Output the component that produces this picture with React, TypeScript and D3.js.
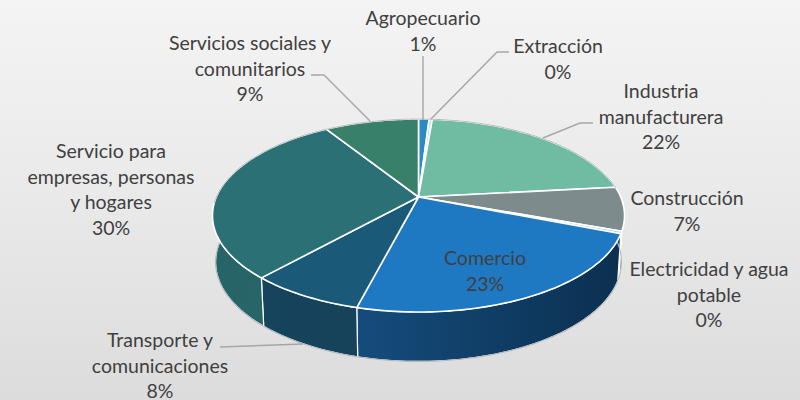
import React from "react";
import * as d3 from "d3";

const categories = ["Agropecuario", "Extracción", "Industria manufacturera", "Construcción", "Electricidad y agua potable", "Comercio", "Transporte y comunicaciones", "Servicio para empresas, personas y hogares", "Servicios sociales y comunitarios"];
const values = [1, 0.3, 22, 7.3, 0.4, 23, 7.6, 29.5, 8.9];
const topColors = ["#2a8ac4", "#b9e3ea", "#6fbca2", "#7d8b8c", "#a9d6e4", "#1f79c2", "#1a5a78", "#2b7075", "#38806a"];
const sideLeft = ["#1a5c8a", "#8fb8c0", "#4f8f78", "#5c6a6b", "#c4dfe8", "#1a5c96", "#17455e", "#266468", "#2c6a58"];
const sideRight = ["#1a5c8a", "#8fb8c0", "#4f8f78", "#5c6a6b", "#c4dfe8", "#0b2f4f", "#143c52", "#2a6a6c", "#2c6a58"];

const labelLines = [
  ["Agropecuario"], ["Extracción"], ["Industria", "manufacturera"], ["Construcción"],
  ["Electricidad y agua", "potable"], ["Comercio"], ["Transporte y", "comunicaciones"],
  ["Servicio para", "empresas, personas", "y hogares"], ["Servicios sociales y", "comunitarios"],
];
const labelAnchors = [[423, 25], [558, 53], [661, 98], [687, 205], [709, 276], [485, 265], [160, 347], [111, 158], [250, 50]];
const leaders: [number, number][][] = [
  [[423, 120], [423, 56]],
  [[431, 119], [497, 52], [509, 52]],
  [[543, 138], [580, 123], [593, 123]],
  [],
  [],
  [],
  [[303, 344], [220, 347]],
  [],
  [[370, 121], [324, 75], [311, 75]],
];

const W = 800, H = 400;
const CX = 418.5, CY = 197, A = 202.2, B = 92.95, K = 0.1917, DEPTH = 46;

const project = (theta: number, h: number): [number, number] => {
  const u = Math.sin(theta), v = -Math.cos(theta), s = 1 / (1 - K * v);
  return [
    CX + A * u * s * (1 - 0.015 * h),
    CY + B * v * s * (1 + 0.03 * h) + DEPTH * h,
  ];
};

const arcs = d3.pie<number>().sort(null).value((d) => d)(values);
const line = d3.line();
const sample = (a: number, b: number) => {
  const n = Math.max(2, Math.ceil((b - a) / 0.02));
  return d3.range(n + 1).map((i) => a + ((b - a) * i) / n);
};
const FRONT_A = Math.PI * 0.47, FRONT_B = Math.PI * 1.56;

export default function App() {
  const outline = [
    ...sample(FRONT_A, FRONT_B).map((t) => project(t, 1)),
  ];
  return (
    <svg width={W} height={H} viewBox={`0 0 ${W} ${H}`} style={{ position: "fixed", left: 0, top: 0, display: "block" }}
      fontFamily="Lato, 'Open Sans', sans-serif">
      <defs>
        <linearGradient id="bg" x1="0" y1="0" x2="0" y2="1">
          <stop offset="0" stopColor="#f4f4f4" />
          <stop offset="0.55" stopColor="#e8e8e8" />
          <stop offset="1" stopColor="#dcdcdc" />
        </linearGradient>
        {arcs.map((_, i) => (
          <linearGradient key={i} id={`side${i}`} gradientUnits="userSpaceOnUse" x1={212} x2={625} y1={0} y2={0}>
            <stop offset="0" stopColor={sideLeft[i]} />
            <stop offset="1" stopColor={sideRight[i]} />
          </linearGradient>
        ))}
        <linearGradient id="side5" gradientUnits="userSpaceOnUse" x1={360} x2={600} y1={0} y2={0}>
          <stop offset="0" stopColor={sideLeft[5]} />
          <stop offset="0.55" stopColor="#0f3a60" />
          <stop offset="1" stopColor={sideRight[5]} />
        </linearGradient>
      </defs>
      <rect width={W} height={H} fill="url(#bg)" />

      {arcs.map((a, i) => {
        const s = Math.max(a.startAngle, FRONT_A), e = Math.min(a.endAngle, FRONT_B);
        if (e <= s) return null;
        const ts = sample(s, e);
        const pts = [...ts.map((t) => project(t, 0)), ...ts.slice().reverse().map((t) => project(t, 1))];
        return <path key={i} d={line(pts) + "Z"} fill={`url(#side${i})`} stroke="#ffffff" strokeWidth={1.2} strokeLinejoin="round" />;
      })}
      <path d={line(outline) ?? ""} fill="none" stroke="#b5b8ba" strokeWidth={1.2} />

      {arcs.map((a, i) => {
        const pts: [number, number][] = [[CX, CY], ...sample(a.startAngle, a.endAngle).map((t) => project(t, 0))];
        return <path key={i} d={line(pts) + "Z"} fill={topColors[i]} stroke="#ffffff" strokeWidth={1.6} strokeLinejoin="round" />;
      })}
      <path d={line(sample(-Math.PI * 0.52, Math.PI * 0.47).map((t) => project(t, 0))) ?? ""} fill="none" stroke="#b5b8ba" strokeWidth={1} />

      {leaders.map((pts, i) => pts.length ? (
        <path key={i} d={line(pts) ?? ""} fill="none" stroke="#a6a6a6" strokeWidth={1.4} />
      ) : null)}

      {arcs.map((a, i) => {
        const lines = [...labelLines[i], `${Math.round(a.value)}%`];
        const [x, y] = labelAnchors[i];
        return (
          <text key={i} x={x} y={y} textAnchor="middle" fontSize={19.5} fill="#404040">
            {lines.map((l, j) => <tspan key={j} x={x} y={y + j * 25.6}>{l}</tspan>)}
          </text>
        );
      })}
    </svg>
  );
}
